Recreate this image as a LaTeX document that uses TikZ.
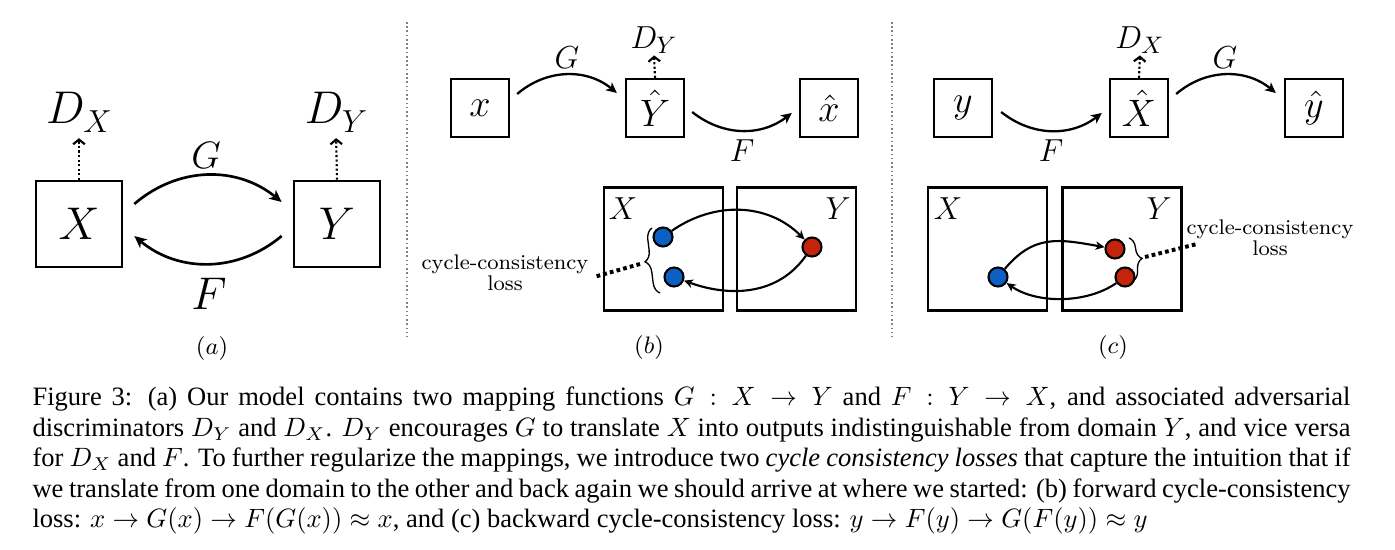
\documentclass[tikz,border=0pt]{standalone}
\usepackage{fontspec}
\usepackage{graphicx}
\newfontfamily\capfont{Liberation Serif}
\usetikzlibrary{arrows.meta,calc,decorations.pathreplacing}
\definecolor{dotblue}{RGB}{12,96,196}
\definecolor{dotred}{RGB}{196,36,12}
\newcommand\fs[1]{\fontsize{#1}{#1}\selectfont}
\begin{document}
\begin{tikzpicture}[x=0.377pt,y=0.377pt,
  bigbox/.style={draw,line width=1pt,minimum size=86*0.377pt,inner sep=0pt,font=\fs{18}},
  sbox/.style={draw,line width=0.87pt,minimum size=58*0.377pt,inner sep=0pt,font=\fs{13.5}},
  dom/.style={draw,line width=0.87pt,minimum width=119*0.377pt,minimum height=123*0.377pt,inner sep=0pt},
  lab/.style={inner sep=0pt},
  domlab/.style={inner sep=0pt,font=\fs{11.7}},
  pnt/.style={circle,draw,line width=0.8pt,minimum size=19*0.377pt,inner sep=0pt},
  bigarr/.style={line width=1pt,-{Stealth[length=4.6pt,width=4.2pt,inset=1.3pt]}},
  marr/.style={line width=0.87pt,-{Stealth[length=4pt,width=3.8pt,inset=1.1pt]}},
  parr/.style={line width=0.8pt,-{Stealth[length=3.4pt,width=3.2pt,inset=1pt]}},
  darr/.style={line width=0.8pt,dash pattern=on 0.8pt off 0.9pt,-{Straight Barb[length=1.8pt,width=4.4pt]}},
  lossline/.style={line width=1.5pt,dash pattern=on 1.4pt off 1.2pt},
  brc/.style={decorate,decoration={brace,amplitude=4.2pt},line width=0.5pt},
  sep/.style={draw=gray,line width=0.45pt,dash pattern=on 0.6pt off 1pt},
  cc/.style={inner sep=0pt,align=center,font=\fontsize{8}{8.1}\selectfont},
  capline/.style={anchor=base west,inner sep=0pt,font=\capfont\fs{10}},
  sublab/.style={inner sep=0pt,font=\fs{8.8}}
]
\useasboundingbox (0,0) rectangle (1395,-550);

% separators
\draw[sep] (407,-22) -- (407,-337);
\draw[sep] (892,-22) -- (892,-337);

% ---------- panel (a)
\node[bigbox] (Xa) at (79,-224) {$X$};
\node[bigbox] (Ya) at (337,-224) {$Y$};
\node[lab] (DXa) at (79,-112) {\fs{16.5}$D$\kern-0.5pt\raisebox{-3.5pt}{\fs{13}$X$}};
\node[lab] (DYa) at (336,-112) {\fs{16.5}$D$\kern-0.5pt\raisebox{-3.5pt}{\fs{13}$Y$}};
\draw[darr,shorten >=2pt] (Xa.north) -- (DXa.south);
\draw[darr,shorten >=2pt] (Ya.north) -- (DYa.south);
\draw[bigarr] ($(Xa.east)+(11,20)$) to[bend left=40] ($(Ya.west)+(-11,22)$);
\draw[bigarr] ($(Ya.west)+(-11,-12)$) to[bend left=40] ($(Xa.east)+(11,-12)$);
\node[lab,font=\fs{14.5}] (Ga) at (206,-155) {$G$};
\node[lab,font=\fs{17.3}] (Fa) at (209,-294) {$F$};
\node[sublab] (la) at (212,-349) {$(a)$};

% ---------- panel (b)
\node[sbox] (xb) at (480,-108) {$x$};
\node[sbox] (Yhb) at (655,-108) {$\hat{Y}$};
\node[sbox] (xhb) at (829,-108) {$\hat{x}$};
\node[lab,font=\fs{12.5}] (DYb) at (654,-40) {$D_Y$};
\draw[darr,shorten >=0.5pt] (Yhb.north) -- (DYb.south);
\draw[marr] ($(xb.east)+(7,14)$) to[bend left=40] ($(Yhb.west)+(-8,15)$);
\draw[marr] ($(Yhb.east)+(7,-4)$) to[bend right=38] ($(xhb.west)+(-7,-5)$);
\node[lab,font=\fs{11.5}] (Gb) at (567,-58) {$G$};
\node[lab,font=\fs{11.5}] (Fb) at (742,-151) {$F$};

\node[dom] (Xb) at (663.5,-249) {};
\node[dom] (Yb) at (796.5,-249) {};
\node[domlab] (Xbl) at (623,-209) {$X$};
\node[domlab] (Ybl) at (838,-209) {$Y$};
\node[pnt,fill=dotblue] (b1) at (663,-237) {};
\node[pnt,fill=dotblue] (b2) at (674,-277) {};
\node[pnt,fill=dotred] (rb) at (812,-247) {};
\draw[parr] (b1) to[out=35,in=135] (rb);
\draw[parr] (rb) to[out=-125,in=-20] (b2);
\draw[brc] (660,-293) -- (652,-228);
\coordinate (tipb) at (640,-264);
\node[cc] (ccb) at (505,-273) {cycle-consistency\\loss};
\draw[lossline] (tipb) -- ($(ccb.east)+(5,-4)$);
\node[sublab] (lb) at (649,-348) {$(b)$};

% ---------- panel (c)
\node[sbox] (yc) at (963,-108) {$y$};
\node[sbox] (Xhc) at (1139,-108) {$\hat{X}$};
\node[sbox] (yhc) at (1314,-108) {$\hat{y}$};
\node[lab,font=\fs{12.5}] (DXc) at (1140,-40) {$D_X$};
\draw[darr,shorten >=0.5pt] (Xhc.north) -- (DXc.south);
\draw[marr] ($(yc.east)+(8,-4)$) to[bend right=38] ($(Xhc.west)+(-7,-5)$);
\draw[marr] ($(Xhc.east)+(7,14)$) to[bend left=40] ($(yhc.west)+(-8,15)$);
\node[lab,font=\fs{11.5}] (Fc) at (1051,-151) {$F$};
\node[lab,font=\fs{11.5}] (Gc) at (1225,-58) {$G$};

\node[dom] (Xc) at (987.5,-249) {};
\node[dom] (Yc) at (1122,-249) {};
\node[domlab] (Xcl) at (948,-209) {$X$};
\node[domlab] (Ycl) at (1159,-209) {$Y$};
\node[pnt,fill=dotblue] (bc) at (998,-277) {};
\node[pnt,fill=dotred] (r1c) at (1115,-249) {};
\node[pnt,fill=dotred] (r2c) at (1125,-277) {};
\draw[parr] (bc) to[out=50,in=170,looseness=1.15] (r1c);
\draw[parr] (r2c) to[out=-145,in=-35,looseness=0.85] (bc);
\draw[brc] (1129,-238) -- (1133,-281);
\coordinate (tipc) at (1145,-257);
\node[cc] (ccc) at (1270,-238) {cycle-consistency\\loss};
\draw[lossline] (tipc) -- ($(ccc.west)+(11,-6)$);
\node[sublab] (lc) at (1113,-348) {$(c)$};

% ---------- caption
\node[capline] (c1) at (32,-406) {\makebox[496.9pt][s]{Figure 3: (a) Our model contains two mapping functions $G : X \rightarrow Y$ and $F : Y \rightarrow X$, and associated adversarial}};
\node[capline] (c2) at (32,-436.5) {\makebox[496.9pt][s]{discriminators $D_Y$ and $D_X$. $D_Y$ encourages $G$ to translate $X$ into outputs indistinguishable from domain $Y$, and vice versa}};
\node[capline] (c3) at (32,-467) {\makebox[496.9pt][s]{for $D_X$ and $F$. To further regularize the mappings, we introduce two \textit{cycle consistency losses} that capture the intuition that if}};
\node[capline] (c4) at (32,-497.5) {\makebox[496.9pt][s]{we translate from one domain to the other and back again we should arrive at where we started: (b) forward cycle-consistency}};
\node[capline] (c5) at (32,-528) {loss: $x \rightarrow G(x) \rightarrow F(G(x)) \approx x$, and (c) backward cycle-consistency loss: $y \rightarrow F(y) \rightarrow G(F(y)) \approx y$};
\end{tikzpicture}
\end{document}
